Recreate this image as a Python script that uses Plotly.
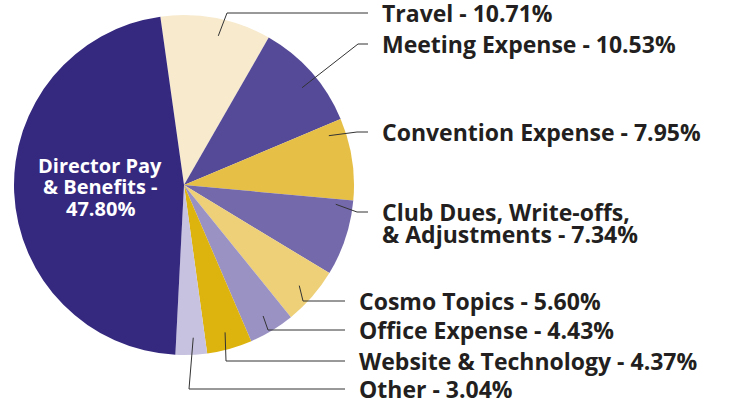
import numpy as np
import plotly.graph_objects as go

# data
labels = ["Travel", "Meeting Expense", "Convention Expense",
          "Club Dues, Write-offs,<br>& Adjustments", "Cosmo Topics",
          "Office Expense", "Website & Technology", "Other",
          "Director Pay<br>& Benefits"]
values = [10.71, 10.53, 7.95, 7.34, 5.60, 4.43, 4.37, 3.04, 47.80]
colors = ["#F7EACD", "#544A98", "#E6BF47", "#7469AA", "#EDD078",
          "#9B92C4", "#DDB30E", "#C7C2DF", "#35297F"]

W, H = 732, 403
cx, cy, r = 184, 185, 170
rot = -8
FONT = "Open Sans"

# label layout (pixels): label x, label y, elbow x, line end, leader angle shift
lab_x = [380, 380, 380, 380, 357, 357, 357, 357]
lab_y = [13, 44, 132, 212, 301, 330, 361, 389]
elbow_x = [227, 358, 357, 357, 303, 268, 226, 189]
line_end = [368, 368, 368, 368, 345, 345, 345, 345]
ang_shift = [2, 2, -10, -11, 0, 0, 0, -1]

fig = go.Figure(go.Pie(
    labels=labels, values=values, sort=False, direction="clockwise",
    rotation=rot, textinfo="none", hoverinfo="label+percent",
    marker=dict(colors=colors, line=dict(width=0)),
    domain=dict(x=[(cx - r) / W, (cx + r) / W],
                y=[(H - cy - r) / H, (H - cy + r) / H]),
    showlegend=False,
))

px = lambda x: x / W
py = lambda y: 1 - y / H


def text_lines(lines, x, y0, step, size, color, anchor):
    for k, t in enumerate(lines):
        annos.append(dict(x=px(x), y=py(y0 + k * step), xref="paper", yref="paper",
                          text=t, showarrow=False, xanchor=anchor, yanchor="middle",
                          font=dict(family=FONT, size=size, color=color, weight="bold")))


cum = np.cumsum([0] + values[:-1])
tot = sum(values)
shapes, annos = [], []
for i in range(8):
    ang = np.radians(rot + (cum[i] + values[i] / 2) / tot * 360 + ang_shift[i])
    sx = cx + 0.9 * r * np.sin(ang)
    sy = cy - 0.9 * r * np.cos(ang)
    path = (f"M {px(sx)},{py(sy)} L {px(elbow_x[i])},{py(lab_y[i])} "
            f"L {px(line_end[i])},{py(lab_y[i])}")
    shapes.append(dict(type="path", xref="paper", yref="paper", path=path,
                       line=dict(color="#333333", width=1)))
    txt = f"{labels[i]} - {values[i]:.2f}%"
    text_lines(txt.split("<br>"), lab_x[i], lab_y[i], 22, 23, "#231F20", "left")

text_lines(f"{labels[8]} -<br>{values[8]:.2f}%".split("<br>"), 100, 165, 21.5, 20,
           "white", "center")

fig.update_layout(width=W, height=H, margin=dict(l=0, r=0, t=0, b=0),
                  paper_bgcolor="white", plot_bgcolor="white",
                  shapes=shapes, annotations=annos)
fig.write_html("out.html", config={"displayModeBar": False},
               post_script="document.body.style.margin='0';")
